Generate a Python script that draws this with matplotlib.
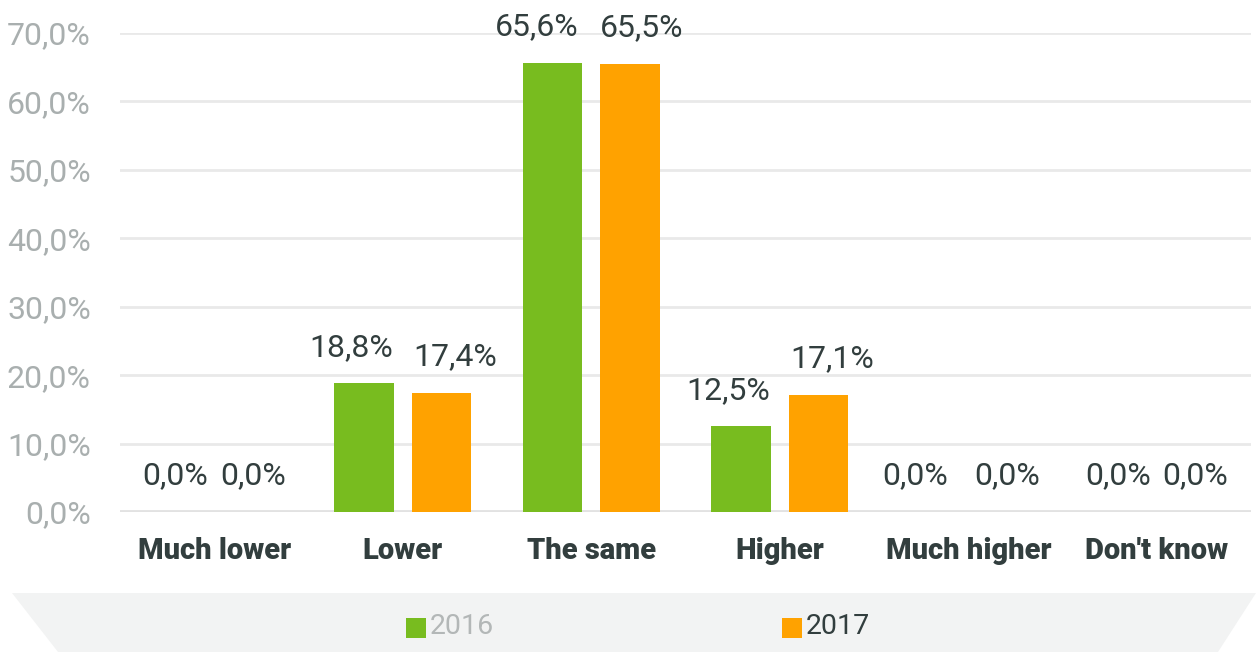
import matplotlib
matplotlib.use('Agg')
import matplotlib.pyplot as plt
from matplotlib.patches import Polygon, Rectangle
import numpy as np

plt.rcParams['font.family'] = ['Roboto', 'DejaVu Sans']

categories = ['Much lower', 'Lower', 'The same', 'Higher', 'Much higher', "Don't know"]
years = ['2016', '2017']
values_2016 = [0.0, 18.8, 65.6, 12.5, 0.0, 0.0]
values_2017 = [0.0, 17.4, 65.5, 17.1, 0.0, 0.0]
yticks = [0, 10, 20, 30, 40, 50, 60, 70]

green = '#78bc1f'
orange = '#ffa200'
dark = '#323e3e'
grey_txt = '#a9afaf'

W, H = 1256, 652
fig = plt.figure(figsize=(W / 100, H / 100), dpi=100)
ax = fig.add_axes([120 / W, (H - 512) / H, (1251 - 120) / W, (512 - 33) / H])

x = np.arange(len(categories))
bw = 0.317
off = 0.206
ax.bar(x - off, values_2016, bw, color=green, zorder=3)
ax.bar(x + off, values_2017, bw, color=orange, zorder=3)

# value labels
def fmt(v):
    return ('%.1f%%' % v).replace('.', ',')

# label nudges in points (the original pushes some labels sideways)
nudge_2016 = [0, -9.5, -11, -9.5, -10, 0]
nudge_2017 = [0, 9.5, 8, 9.5, 0, 0]

for i in range(len(categories)):
    for vals, nudge, sign in ((values_2016, nudge_2016, -1), (values_2017, nudge_2017, 1)):
        v = vals[i]
        ax.annotate(fmt(v), (x[i] + sign * off, v), xytext=(nudge[i], 26),
                    textcoords='offset points', ha='center', va='center',
                    fontsize=23, color=dark, annotation_clip=False)

ax.set_xlim(-0.5, len(categories) - 0.5)
ax.set_ylim(0, 70)
ax.set_yticks(yticks)
ax.set_yticklabels([fmt(t) for t in yticks], fontsize=23, color=grey_txt)
ax.set_xticks(x)
ax.set_xticklabels(categories, fontsize=21, fontweight='black', color=dark)
ax.tick_params(axis='y', length=0, pad=21)
ax.tick_params(axis='x', length=0, pad=18)
for s in ax.spines.values():
    s.set_visible(False)
ax.grid(axis='y', color='#e9e9e9', linewidth=2, zorder=0)
ax.axhline(0, color='#e2e2e2', linewidth=3.5, zorder=2)

# legend band
band = Polygon([(12 / W, (H - 593) / H), (1256 / W, (H - 593) / H),
                (1218 / W, 0), (58 / W, 0)], closed=True,
               transform=fig.transFigure, facecolor='#f2f3f3', edgecolor='none')
fig.add_artist(band)
for (sx, tx, col, tcol, lab) in ((406, 430, green, '#b3b7b7', years[0]),
                                 (782, 806, orange, dark, years[1])):
    fig.add_artist(Rectangle((sx / W, (H - 638) / H), 20 / W, 20 / H,
                             transform=fig.transFigure, facecolor=col, edgecolor='none'))
    fig.text(tx / W, (H - 627) / H, lab, fontsize=20.5, color=tcol, ha='left', va='center')

fig.savefig('out.png', dpi=100)
